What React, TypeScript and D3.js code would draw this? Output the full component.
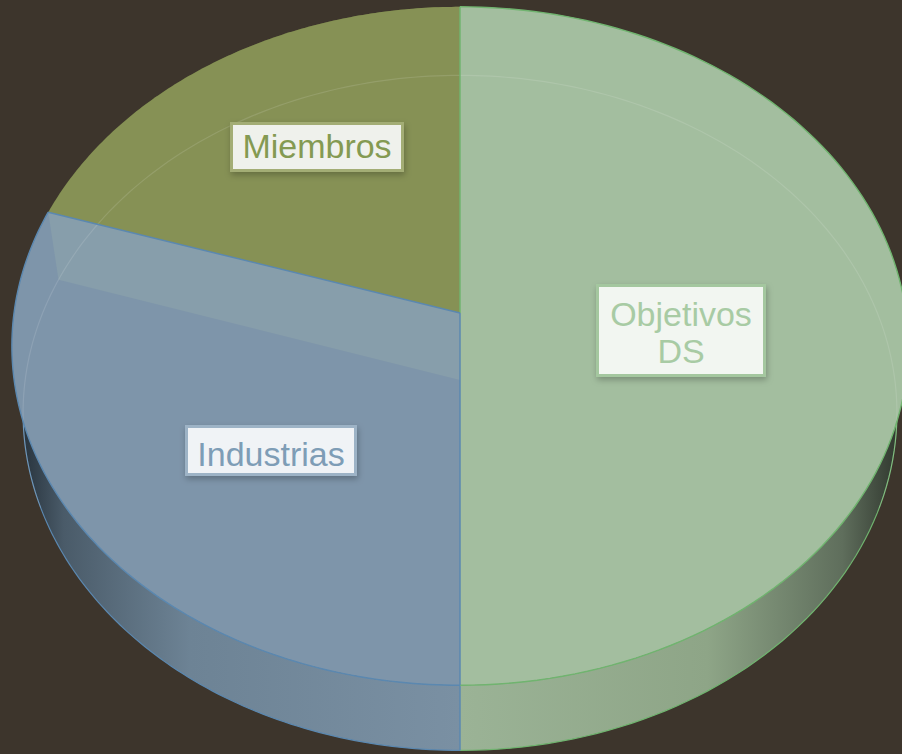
import React from "react";
import * as d3 from "d3";

// ---- data ----
const categories = ["Objetivos DS", "Industrias", "Miembros"];
const values = [50, 30, 20];
const topColors = ["#a3be9f", "#7e95aa", "#869155"];
const edgeColors = ["#70b46f", "#5b88b0", "#86a05a"];
const textColors = ["#a8cba4", "#7e9db6", "#849a52"];
const boxBorders = ["#a4c79f", "#9db3c6", "#a3ad74"];
const boxFills = ["#f2f6f1", "#f0f3f6", "#eff1ec"];

// ---- layout ----
const W = 902, H = 754;
const cx = 460, cy = 313, R = 446, B = 336, K = 0.0974;
const cyB = 380, BX = 0.975, BY = 0.995;
const labelBoxes = [
  { x: 596, y: 284, w: 170, h: 93, lines: ["Objetivos", "DS"], base: 326 },
  { x: 185, y: 425, w: 172, h: 51, lines: ["Industrias"], base: 466 },
  { x: 230, y: 122, w: 174, h: 50, lines: ["Miembros"], base: 158 },
];

function proj(t: number, f = 1): [number, number] {
  const u = Math.sin(t) * f, v = -Math.cos(t) * f;
  const s = 1 / (1 - K * v);
  return [cx + R * u * s, cy + B * v * s];
}
function projB(t: number, f = 1): [number, number] {
  const u = Math.sin(t) * f, v = -Math.cos(t) * f;
  const s = 1 / (1 - K * v);
  return [cx + R * u * s * BX, cyB + B * v * s * BY];
}
function pts(fn: (t: number) => [number, number], a0: number, a1: number, n = 120) {
  return d3.range(n + 1).map((i) => fn(a0 + ((a1 - a0) * i) / n));
}

export default function App() {
  const arcs = d3.pie<number>().sort(null).startAngle(0).endAngle(2 * Math.PI)(values);
  const line = d3.line<[number, number]>();
  const lineClosed = d3.line<[number, number]>().curve(d3.curveLinearClosed);

  const sides = arcs.map((a, i) => {
    const a0 = a.startAngle, a1 = a.endAngle;
    const poly = [...pts(proj, a0, a1), ...pts(projB, a0, a1).reverse()];
    return { i, d: lineClosed(poly as any), bottom: line(pts(projB, a0, a1) as any) };
  });

  const tops = arcs.map((a, i) => {
    const poly = [[cx, cy] as [number, number], ...pts(proj, a.startAngle, a.endAngle)];
    return { i, d: lineClosed(poly as any), rim: line(pts(proj, a.startAngle, a.endAngle) as any) };
  });

  // radial wall between Industrias and Miembros (seen through)
  const wallAngle = arcs[1].endAngle;
  const wall = lineClosed([[cx, cy], proj(wallAngle), projB(wallAngle), [cx, cyB]] as any);
  const bottomBack = line(pts(projB, 1.38 * Math.PI, 2.62 * Math.PI, 200) as any);

  return (
    <svg width={W} height={H} style={{ position: "absolute", left: 0, top: 0 }}
      fontFamily="'Liberation Sans', Arial, sans-serif">
      <defs>
        <linearGradient id="sideG0" gradientUnits="userSpaceOnUse" x1={460} x2={910} y1={0} y2={0}>
          <stop offset="0" stopColor="#9bb396" />
          <stop offset="0.55" stopColor="#8ea587" />
          <stop offset="0.85" stopColor="#5f6e5c" />
          <stop offset="1" stopColor="#262c25" />
        </linearGradient>
        <linearGradient id="sideG1" gradientUnits="userSpaceOnUse" x1={10} x2={460} y1={0} y2={0}>
          <stop offset="0" stopColor="#1e2830" />
          <stop offset="0.12" stopColor="#4a5b69" />
          <stop offset="0.4" stopColor="#6d8395" />
          <stop offset="1" stopColor="#7a90a3" />
        </linearGradient>
        <linearGradient id="sideG2" gradientUnits="userSpaceOnUse" x1={10} x2={460} y1={0} y2={0}>
          <stop offset="0" stopColor="#3a3f25" />
          <stop offset="1" stopColor="#6b7340" />
        </linearGradient>
        <filter id="shadow" x="-20%" y="-20%" width="140%" height="150%">
          <feDropShadow dx="1" dy="3" stdDeviation="3" floodColor="#000" floodOpacity="0.25" />
        </filter>
      </defs>
      <rect x={0} y={0} width={W} height={H} fill="#3d352c" />
      {sides.map((s) => (
        <g key={"side" + s.i}>
          <path d={s.d!} fill={`url(#sideG${s.i})`} />
          <path d={s.bottom!} fill="none" stroke={edgeColors[s.i]} strokeWidth={1.2} />
        </g>
      ))}
      <line x1={proj(Math.PI)[0]} y1={proj(Math.PI)[1]} x2={projB(Math.PI)[0]} y2={projB(Math.PI)[1]}
        stroke={edgeColors[1]} strokeWidth={1.5} />
      {tops.map((t) => (
        <g key={"top" + t.i}>
          <path d={t.d!} fill={topColors[t.i]} />
        </g>
      ))}
      <path d={wall!} fill="#879eab" />
      <path d={bottomBack!} fill="none" stroke="#ffffff" strokeOpacity={0.12} strokeWidth={1.2} />
      {tops.map((t) => (
        <path key={"rim" + t.i} d={t.rim!} fill="none" stroke={edgeColors[t.i]} strokeWidth={t.i === 2 ? 0 : 1.4} />
      ))}
      <line x1={cx} y1={cy} x2={proj(0)[0]} y2={proj(0)[1]} stroke={edgeColors[0]} strokeWidth={1.5} />
      <line x1={cx} y1={cy} x2={proj(Math.PI)[0]} y2={proj(Math.PI)[1]} stroke={edgeColors[1]} strokeWidth={1.5} />
      <line x1={cx} y1={cy} x2={proj(wallAngle)[0]} y2={proj(wallAngle)[1]} stroke={edgeColors[1]} strokeWidth={1.5} />
      {labelBoxes.map((b, i) => (
        <g key={"lab" + i}>
          <rect x={b.x + 1.5} y={b.y + 1.5} width={b.w - 3} height={b.h - 3} fill={boxFills[i]}
            stroke={boxBorders[i]} strokeWidth={3} filter="url(#shadow)" />
          {b.lines.map((ln, j) => (
            <text key={j} x={b.x + b.w / 2} y={b.base + j * 37} textAnchor="middle" fontSize={34}
              fill={textColors[i]}>{ln}</text>
          ))}
        </g>
      ))}
      <title>{categories.join(", ")}</title>
    </svg>
  );
}
